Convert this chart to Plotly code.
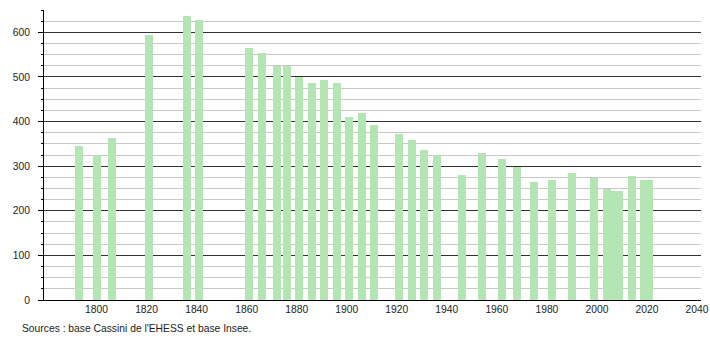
import plotly.graph_objects as go

years = [1793, 1800, 1806, 1821, 1836, 1841, 1861, 1866, 1872, 1876, 1881, 1886,
         1891, 1896, 1901, 1906, 1911, 1921, 1926, 1931, 1936, 1946, 1954, 1962,
         1968, 1975, 1982, 1990, 1999, 2004, 2006, 2009, 2014, 2019, 2021]
population = [345, 325, 362, 595, 637, 627, 565, 554, 524, 524, 500, 487,
              494, 487, 411, 419, 392, 373, 359, 336, 324, 281, 329, 315,
              298, 264, 270, 285, 274, 248, 245, 245, 277, 270, 270]
x_ticks = [1800, 1820, 1840, 1860, 1880, 1900, 1920, 1940, 1960, 1980, 2000, 2020, 2040]
y_ticks = [0, 100, 200, 300, 400, 500, 600]
source_text = "Sources : base Cassini de l'EHESS et base Insee."

fig = go.Figure()
fig.add_trace(go.Bar(
    x=years, y=population, width=3.2,
    marker=dict(color="#b3e6b3", line=dict(width=0)),
    hoverinfo="x+y",
))

font = dict(family="Liberation Sans, Arial, sans-serif", size=10.3, color="#222")

fig.update_layout(
    width=710, height=340,
    margin=dict(l=44, r=9, t=10, b=40, autoexpand=False),
    paper_bgcolor="white", plot_bgcolor="white",
    showlegend=False,
    font=font,
    bargap=0,
    xaxis=dict(
        range=[1779, 2041.6],
        tickvals=x_ticks,
        ticktext=[str(v) for v in x_ticks],
        showgrid=False, zeroline=False,
        showline=True, linecolor="#000", linewidth=1,
        ticks="", tickfont=font, automargin=False,
    ),
    yaxis=dict(
        range=[0, 650],
        tickvals=y_ticks,
        showgrid=True, gridcolor="#333", gridwidth=1,
        zeroline=False,
        showline=True, linecolor="#000", linewidth=1,
        ticks="outside", ticklen=5, tickcolor="#000", tickwidth=1,
        tickfont=font, automargin=False,
        ticklabelstandoff=6,
        minor=dict(dtick=25, tick0=0, showgrid=True, gridcolor="#c8c8c8",
                   gridwidth=1, ticks="outside", ticklen=2, tickcolor="#000"),
    ),
    annotations=[dict(
        text=source_text, xref="paper", yref="paper",
        x=-24/657, y=-28/290, xanchor="left", yanchor="middle",
        showarrow=False, font=font,
    )],
)

fig.write_html("out.html")
